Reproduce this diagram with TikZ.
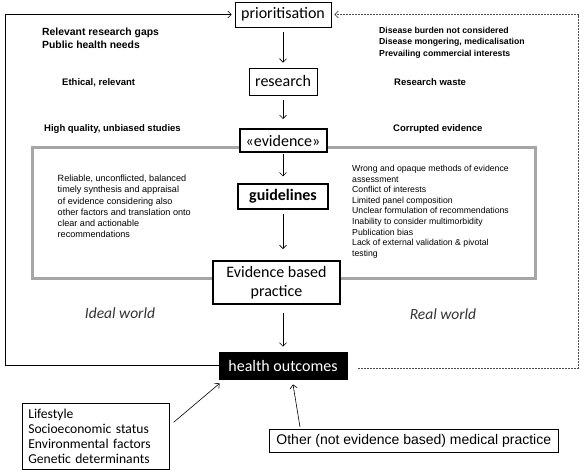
\documentclass[tikz,border=0pt]{standalone}
\usepackage{fontspec}
\setmainfont{Liberation Sans}
\newfontfamily\calfont{Carlito}
\newfontfamily\arfont{Liberation Sans}
\usetikzlibrary{arrows.meta}
\tikzset{
  box/.style={draw, line width=0.8pt, fill=white, inner sep=0pt, align=center,
    font=\calfont\fontsize{16}{19}\selectfont},
  thickbox/.style={box, line width=2pt},
  arr/.style={-{Straight Barb[length=3.5pt,width=7pt]}, line width=0.6pt},
  darr/.style={arr, densely dashed, dash pattern=on 1.6pt off 1.4pt, draw=black!70},
  lbl/.style={anchor=north west, inner sep=0pt, align=left,
    font=\arfont\bfseries\fontsize{10.4}{12.5}\selectfont},
  slbl/.style={anchor=north west, inner sep=0pt, align=left,
    font=\arfont\bfseries\fontsize{9.5}{11.3}\selectfont},
  para/.style={anchor=north west, inner sep=0pt, align=left},
  world/.style={font=\calfont\itshape\fontsize{15.5}{18}\selectfont, text=black!80},
  frame/.style={draw=black!35, line width=3pt},
}
\begin{document}
\begin{tikzpicture}[x=1pt,y=-1pt]
\useasboundingbox (0,0) rectangle (586,474);
% gray frame
\draw[frame] (32,147) rectangle (535,278);
% central boxes
\node[box, minimum width=96, minimum height=25] (prio) at (283,14.5) {prioritisation};
\node[box, minimum width=68, minimum height=27] (res) at (283,81.5) {research};
\node[thickbox, minimum width=87, minimum height=23] (ev) at (283,140.5) {«evidence»};
\node[box, line width=1.2pt, minimum width=90, minimum height=25, font=\calfont\bfseries\fontsize{16}{19}\selectfont] (gl) at (283,196.5) {guidelines};
\node[thickbox, minimum width=127, minimum height=43] (ebp) at (276.5,282.5) {Evidence based\\practice};
\node[box, fill=black, text=white, minimum width=128, minimum height=27] (ho) at (283,365.5) {health outcomes};
% vertical arrows
\draw[arr, shorten <=5pt, shorten >=5pt] (prio.south) -- (prio.south |- res.north);
\draw[arr, shorten <=5pt, shorten >=9pt] (res.south) -- (res.south |- ev.north);
\draw[arr, shorten <=1pt, shorten >=7pt] (ev.south) -- (ev.south |- gl.north);
\draw[arr, shorten <=4pt, shorten >=11pt] (gl.south) -- (gl.south |- ebp.north);
\draw[arr, shorten <=8pt, shorten >=5pt] (ebp.south -| ho.south) -- (ho.north);
% feedback loops
\coordinate (bl) at (5,365.5);
\coordinate (tl) at (5,14.5);
\draw[arr, shorten >=3pt] (ho.west) -- (bl) -- (tl) -- (prio.west);
\coordinate (dstart) at (358,368);
\coordinate (br) at (578,368);
\coordinate (tr) at (578,14.5);
\draw[darr, shorten >=3pt] (dstart) -- (br) -- (tr) -- (prio.east);
% left labels
\node[lbl] (l1) at (42,28) {Relevant research gaps\\Public health needs};
\node[slbl] (l2) at (62,78) {Ethical, relevant};
\node[slbl] (l3) at (44,124) {High quality, unbiased studies};
% right labels
\node[anchor=north west, inner sep=0pt, align=left,
  font=\arfont\bfseries\fontsize{8.7}{11.3}\selectfont] (r1) at (379,27)
  {Disease burden not considered\\Disease mongering, medicalisation\\Prevailing commercial interests};
\node[slbl] (r2) at (394,78) {Research waste};
\node[slbl] (r3) at (393,124) {Corrupted evidence};
% paragraphs
\node[para, font=\arfont\fontsize{9.1}{11.2}\selectfont] (pl) at (57.5,175)
  {Reliable, unconflicted, balanced\\timely synthesis and appraisal\\of evidence considering also\\other factors and translation onto\\clear and actionable\\recommendations};
\node[para, font=\arfont\fontsize{8.7}{10.6}\selectfont] (pr) at (352,165)
  {Wrong and opaque methods of evidence\\assessment\\Conflict of interests\\Limited panel composition\\Unclear formulation of recommendations\\Inability to consider multimorbidity\\Publication bias\\Lack of external validation \& pivotal\\testing};
% worlds
\node[world] (iw) at (120,313) {Ideal world};
\node[world] (rw) at (443,314) {Real world};
% bottom boxes
\node[draw, line width=0.6pt, anchor=north west, minimum width=147, minimum height=66,
  text width=135, inner xsep=6pt, inner ysep=0pt, align=left,
  font=\calfont\fontsize{13.6}{15.3}\selectfont] (life) at (22,403)
  {Lifestyle\\Socioeconomic status\\Environmental factors\\Genetic determinants};
\node[draw, line width=0.6pt, anchor=north west, minimum width=289, minimum height=23,
  inner sep=0pt, font=\arfont\fontsize{14}{16}\selectfont] (oth) at (269,429)
  {Other (not evidence based) medical practice};
\draw[arr] ([shift={(4,-14)}]life.east) -- ([shift={(1,4)}]ho.south west);
\draw[arr] ([shift={(31,-2)}]oth.north west) -- ([shift={(10,5)}]ho.south);
\end{tikzpicture}
\end{document}
